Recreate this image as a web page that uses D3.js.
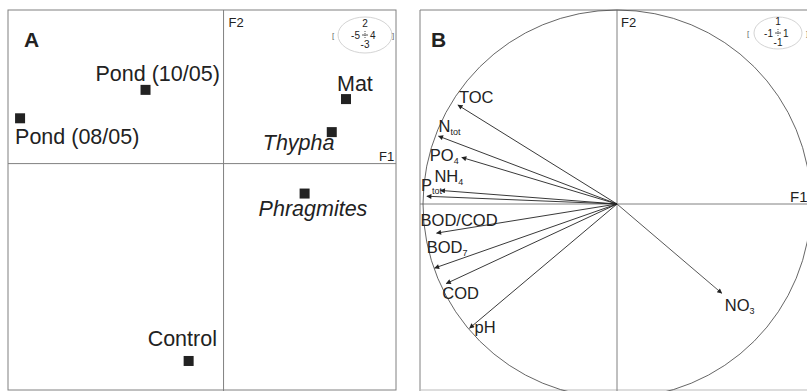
<!DOCTYPE html>
<html>
<head>
<meta charset="utf-8">
<script src="https://cdn.jsdelivr.net/npm/d3@7"></script>
<style>
  body { margin: 0; background: #fff; }
  svg { display: block; font-family: "Liberation Sans", Arial, sans-serif; }
</style>
</head>
<body>
<svg width="807" height="391"></svg>
<script>
var width = 807, height = 391;

// Panel A: site scores on F1/F2
var sites = ["Pond (10/05)", "Pond (08/05)", "Mat", "Thypha", "Phragmites", "Control"];
var siteF1 = [-1.81, -4.72, 2.84, 2.51, 1.88, -0.81];
var siteF2 = [0.96, 0.59, 0.84, 0.41, -0.39, -2.57];
var siteItalic = [false, false, false, true, true, false];

// Panel B: variable loadings (correlation circle)
var vars = ["TOC", "N|tot", "PO|4", "NH|4", "P|tot", "BOD/COD", "BOD|7", "COD", "pH", "NO|3"];
var varF1 = [-0.82, -0.92, -0.80, -0.91, -0.98, -0.93, -0.94, -0.88, -0.76, 0.54];
var varF2 = [0.51, 0.35, 0.24, 0.07, 0.04, -0.15, -0.33, -0.41, -0.64, -0.46];

// label offsets (px) from the point / arrow tip
var siteLab = {
  "Pond (10/05)": [-50, -9], "Pond (08/05)": [-5, 26], "Mat": [-9, -8],
  "Thypha": [-69, 18], "Phragmites": [-46, 22], "Control": [-41, -15]
};
var varLab = {
  "TOC": [1, -2], "N|tot": [0, -4], "PO|4": [-32, 4], "NH|4": [-6, -8], "P|tot": [-6, -5],
  "BOD/COD": [-16, -7], "BOD|7": [-8, -15], "COD": [-4, 15], "pH": [5, 5], "NO|3": [3, 18]
};

var svg = d3.select("svg");
var ink = "#222", grey = "#808080";

// ---------- panel A ----------
var xA = d3.scaleLinear().domain([-5, 4]).range([8, 396]);
var yA = d3.scaleLinear().domain([-3, 2]).range([394, 10]);
var gA = svg.append("g");

gA.append("rect")
  .attr("x", xA(-5)).attr("y", yA(2))
  .attr("width", xA(4) - xA(-5)).attr("height", 390 - yA(2))
  .attr("fill", "none").attr("stroke", grey);
gA.append("line").attr("x1", xA(0)).attr("x2", xA(0)).attr("y1", yA(2)).attr("y2", 391)
  .attr("stroke", grey);
gA.append("line").attr("x1", xA(-5)).attr("x2", xA(4)).attr("y1", yA(0)).attr("y2", yA(0))
  .attr("stroke", grey);

gA.append("text").attr("x", xA(0) + 5).attr("y", 27).attr("font-size", 13).attr("fill", ink).text("F2");
gA.append("text").attr("x", xA(4) - 17).attr("y", yA(0) - 3).attr("font-size", 13).attr("fill", ink).text("F1");
gA.append("text").attr("x", 24).attr("y", 47).attr("font-size", 21).attr("font-weight", "bold")
  .attr("fill", ink).text("A");

var siteData = sites.map(function (s, i) {
  return { name: s, x: siteF1[i], y: siteF2[i], it: siteItalic[i] };
});
gA.selectAll("rect.pt").data(siteData).enter().append("rect")
  .attr("class", "pt")
  .attr("x", function (d) { return xA(d.x) - 5; })
  .attr("y", function (d) { return yA(d.y) - 5; })
  .attr("width", 10).attr("height", 10).attr("fill", ink);
gA.selectAll("text.lab").data(siteData).enter().append("text")
  .attr("class", "lab")
  .attr("x", function (d) { return xA(d.x) + siteLab[d.name][0]; })
  .attr("y", function (d) { return yA(d.y) + siteLab[d.name][1]; })
  .attr("font-size", 21.5)
  .attr("font-style", function (d) { return d.it ? "italic" : null; })
  .attr("fill", ink)
  .text(function (d) { return d.name; });

// inset scale hint
function inset(g, cx, cy, rx, ry, t, l, r, b, bl, br) {
  g.append("ellipse").attr("cx", cx).attr("cy", cy).attr("rx", rx).attr("ry", ry)
    .attr("fill", "none").attr("stroke", "#d4d4d4");
  var f = 10;
  g.append("text").attr("x", cx).attr("y", cy - 8).attr("text-anchor", "middle").attr("font-size", f).attr("fill", ink).text(t);
  g.append("text").attr("x", cx - 5).attr("y", cy + 4).attr("text-anchor", "end").attr("font-size", f).attr("fill", ink).text(l);
  g.append("text").attr("x", cx + 5).attr("y", cy + 4).attr("font-size", f).attr("fill", ink).text(r);
  g.append("text").attr("x", cx).attr("y", cy + 13).attr("text-anchor", "middle").attr("font-size", f).attr("fill", ink).text(b);
  g.append("line").attr("x1", cx - 3).attr("x2", cx + 3).attr("y1", cy).attr("y2", cy).attr("stroke", "#555");
  g.append("line").attr("x1", cx).attr("x2", cx).attr("y1", cy - 4).attr("y2", cy + 4).attr("stroke", "#555")
    .attr("stroke-dasharray", "1,1");
  g.append("text").attr("x", bl).attr("y", cy + 3).attr("font-size", 8).attr("fill", "#666").text("[");
  g.append("text").attr("x", br).attr("y", cy + 3).attr("font-size", 8).attr("fill", "#666").text("]");
}
inset(gA, 365, 35, 27, 18, "2", "-5", "4", "-3", 332, 392);

// ---------- panel B ----------
var xB = d3.scaleLinear().domain([-1, 1]).range([423, 811]);
var yB = d3.scaleLinear().domain([-1, 1]).range([398, 10]);
var gB = svg.append("g");

gB.append("line").attr("x1", 420).attr("x2", 807).attr("y1", 10).attr("y2", 10).attr("stroke", grey);
gB.append("line").attr("x1", 420).attr("x2", 420).attr("y1", 10).attr("y2", 391).attr("stroke", grey);
gB.append("line").attr("x1", 420).attr("x2", 807).attr("y1", 390).attr("y2", 390).attr("stroke", "#bbb");
gB.append("line").attr("x1", xB(0)).attr("x2", xB(0)).attr("y1", 10).attr("y2", 391).attr("stroke", grey);
gB.append("line").attr("x1", 420).attr("x2", 807).attr("y1", yB(0)).attr("y2", yB(0)).attr("stroke", grey);
gB.append("circle").attr("cx", xB(0)).attr("cy", yB(0)).attr("r", xB(1) - xB(0))
  .attr("fill", "none").attr("stroke", "#555").attr("stroke-width", 0.9);

gB.append("text").attr("x", xB(0) + 4).attr("y", 27).attr("font-size", 13).attr("fill", ink).text("F2");
gB.append("text").attr("x", 790).attr("y", yB(0) - 2).attr("font-size", 15).attr("fill", ink).text("F1");
gB.append("text").attr("x", 431).attr("y", 47).attr("font-size", 21).attr("font-weight", "bold")
  .attr("fill", ink).text("B");

svg.append("defs").append("marker")
  .attr("id", "arr").attr("viewBox", "0 0 10 10").attr("refX", 9).attr("refY", 5)
  .attr("markerWidth", 7).attr("markerHeight", 5).attr("markerUnits", "userSpaceOnUse")
  .attr("orient", "auto")
  .append("path").attr("d", "M0,0L10,5L0,10z").attr("fill", ink);

var varData = vars.map(function (v, i) { return { name: v, x: varF1[i], y: varF2[i] }; });
gB.selectAll("line.arrow").data(varData).enter().append("line")
  .attr("class", "arrow")
  .attr("x1", xB(0)).attr("y1", yB(0))
  .attr("x2", function (d) { return xB(d.x); })
  .attr("y2", function (d) { return yB(d.y); })
  .attr("stroke", function (d) { return d.x > 0 ? "#444" : ink; })
  .attr("stroke-width", 0.9)
  .attr("marker-end", "url(#arr)");

var vt = gB.selectAll("text.vl").data(varData).enter().append("text")
  .attr("class", "vl")
  .attr("x", function (d) { return xB(d.x) + varLab[d.name][0]; })
  .attr("y", function (d) { return yB(d.y) + varLab[d.name][1]; })
  .attr("font-size", 16.5).attr("fill", ink);
vt.each(function (d) {
  var parts = d.name.split("|");
  var t = d3.select(this);
  t.append("tspan").text(parts[0]);
  if (parts[1]) {
    t.append("tspan").attr("dy", 3).attr("font-size", 9).text(parts[1]);
  }
});

inset(gB, 778, 33, 24, 16, "1", "-1", "1", "-1", 747, 806);
</script>
</body>
</html>
